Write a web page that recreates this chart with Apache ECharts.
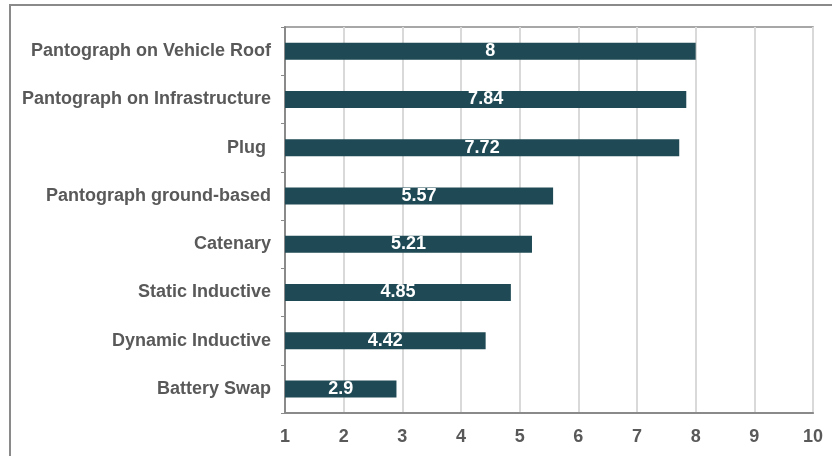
<!DOCTYPE html>
<html>
<head>
<meta charset="utf-8">
<script src="https://cdn.jsdelivr.net/npm/echarts@6/dist/echarts.min.js"></script>
<style>
  html, body { margin: 0; padding: 0; background: #fff; overflow: hidden; }
  #frame { position: absolute; left: 9px; top: 4px; width: 900px; height: 500px; border: 2px solid #8a8a8a; box-sizing: border-box; }
  #chart { position: absolute; left: 0; top: 0; width: 832px; height: 456px; }
</style>
</head>
<body>
<div id="frame"></div>
<div id="chart"></div>
<script>
// Charging technologies and their scores
const categories = [
  'Pantograph on Vehicle Roof',
  'Pantograph on Infrastructure',
  'Plug ',
  'Pantograph ground-based',
  'Catenary',
  'Static Inductive',
  'Dynamic Inductive',
  'Battery Swap'
];
const scores = [8, 7.84, 7.72, 5.57, 5.21, 4.85, 4.42, 2.9];
const axisMin = 1;
const axisMax = 10;

const textFont = { fontFamily: 'Liberation Sans, Arial', fontWeight: 'bold', fontSize: 18 };

const chart = echarts.init(document.getElementById('chart'), null, { renderer: 'canvas' });
chart.setOption({
  animation: false,
  grid: {
    left: 285, right: 19, top: 27, bottom: 43,
    show: true, borderColor: '#8a8a8a', borderWidth: 1.5, backgroundColor: 'transparent'
  },
  xAxis: {
    type: 'value', min: axisMin, max: axisMax, interval: 1,
    axisLine: { show: true, lineStyle: { color: '#8a8a8a', width: 2 } },
    axisTick: { show: false },
    splitLine: { show: true, lineStyle: { color: '#d9d9d9', width: 2 } },
    axisLabel: Object.assign({ color: '#595959', margin: 15 }, textFont)
  },
  yAxis: {
    type: 'category', data: categories, inverse: true,
    axisLine: { show: true, lineStyle: { color: '#8a8a8a', width: 2 } },
    axisTick: { show: true, length: 4, lineStyle: { color: '#8a8a8a', width: 1 } },
    axisLabel: Object.assign({ color: '#595959', margin: 14 }, textFont)
  },
  series: [{
    type: 'bar', data: scores, barWidth: 17,
    itemStyle: { color: '#1f4a55' },
    label: Object.assign({ show: true, position: 'inside', color: '#ffffff' }, textFont)
  }]
});
</script>
</body>
</html>
